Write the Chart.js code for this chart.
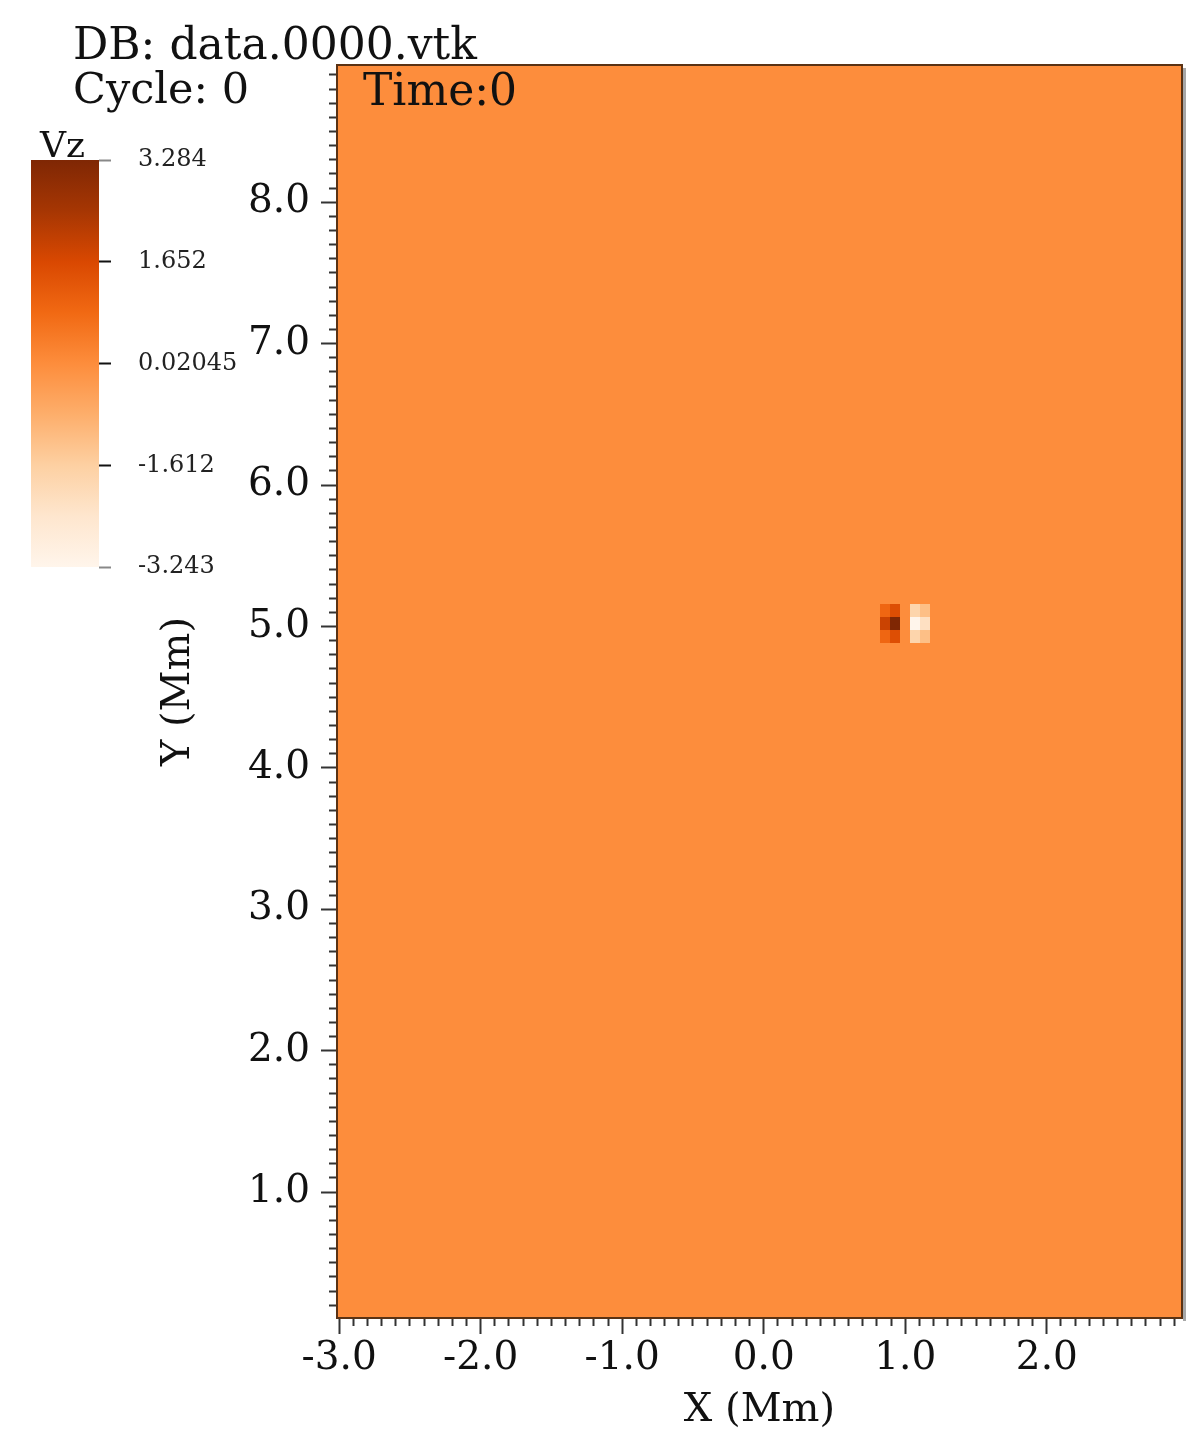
<html>
<head>
<script src="https://cdn.jsdelivr.net/npm/chart.js@4.4.0/dist/chart.umd.min.js"></script>
<style>
    body { margin: 0; background: #fff; width: 1200px; height: 1440px; position: relative; overflow: hidden; }
    canvas { position: absolute; }
    #main { left: 0; top: 0; }
    #cbar { left: 0; top: 130px; }
    .lbl { position: absolute; font-family: "DejaVu Serif"; color: #111; line-height: 1; white-space: nowrap; }
</style>
</head>
<body>
<canvas id="main" width="1200" height="1440"></canvas>
<canvas id="cbar" width="260" height="460"></canvas>
<div class="lbl" style="left:73px;top:22px;font-size:44px">DB: data.0000.vtk</div>
<div class="lbl" style="left:73px;top:67px;font-size:43px">Cycle: 0</div>
<div class="lbl" style="left:363px;top:68px;font-size:44px">Time:0</div>
<div class="lbl" style="left:40px;top:127px;font-size:36px">Vz</div>

<script>
// axis ranges and tick labels
const xMin = -3.015, xMax = 2.955;
const yMin = 0.11, yMax = 8.97;
const xMajor = [-3, -2, -1, 0, 1, 2];
const xLabels = ['-3.0', '-2.0', '-1.0', '0.0', '1.0', '2.0'];
const yMajor = [1, 2, 3, 4, 5, 6, 7, 8];
const yLabels = ['1.0', '2.0', '3.0', '4.0', '5.0', '6.0', '7.0', '8.0'];

// Vz field: uniform background plus a small dipole near (1.0, 5.0)
const vzBackground = 0.02045;
const cellX = [0.86, 0.93, 1.00, 1.07, 1.14];
const cellY = [5.11, 5.02, 4.93];
const cellW = 0.07, cellH = 0.094;
const vzRowTop = [0.9, 1.5, 0.02, -1.8, -1.2];
const vzRowMid = [1.9, 3.284, 0.02, -3.243, -2.2];
const vzRowBot = [0.9, 1.5, 0.02, -1.8, -1.2];

// colour bar
const vzMin = -3.243, vzMax = 3.284;
const cbTicks = [-3.243, -1.612, 0.02045, 1.652, 3.284];
const cbLabels = ['-3.243', '-1.612', '0.02045', '1.652', '3.284'];

const oranges = ['#fff5eb', '#fee6ce', '#fdd0a2', '#fdae6b', '#fd8d3c', '#f16913', '#d94801', '#a63603', '#7f2704'];
const FONT = 'DejaVu Serif';

function hexRgb(h) {
    return [parseInt(h.slice(1, 3), 16), parseInt(h.slice(3, 5), 16), parseInt(h.slice(5, 7), 16)];
}
function orangesColor(v) {
    let t = (v - vzMin) / (vzMax - vzMin);
    t = Math.max(0, Math.min(1, t));
    const f = t * (oranges.length - 1);
    const i = Math.min(oranges.length - 2, Math.floor(f));
    const u = f - i;
    const a = hexRgb(oranges[i]), b = hexRgb(oranges[i + 1]);
    const c = a.map((x, k) => Math.round(x + (b[k] - x) * u));
    return 'rgb(' + c.join(',') + ')';
}

const vzRows = [vzRowTop, vzRowMid, vzRowBot];
const cells = [];
cellY.forEach((y, r) => {
    cellX.forEach((x, c) => {
        cells.push({ x: x, y: y, v: vzRows[r][c] });
    });
});

function isMajor(v) {
    return Math.abs(v - Math.round(v)) < 1e-6;
}
function minorTicks(from, to) {
    const out = [];
    for (let i = from; i <= to; i++) out.push({ value: i / 10 });
    return out;
}
function labelFor(v, majors, labels) {
    if (!isMajor(v)) return '';
    const i = majors.indexOf(Math.round(v));
    return i >= 0 ? labels[i] : '';
}

const cellCache = {};
function cellStyle(c) {
    const p = c.raw;
    if (!p) return 'rect';
    const xs = c.chart.scales.x, ys = c.chart.scales.y;
    const w = Math.max(1, Math.round(Math.abs(xs.getPixelForValue(p.x + cellW / 2) - xs.getPixelForValue(p.x - cellW / 2))));
    const h = Math.max(1, Math.round(Math.abs(ys.getPixelForValue(p.y + cellH / 2) - ys.getPixelForValue(p.y - cellH / 2))));
    const col = orangesColor(p.v);
    const key = w + 'x' + h + col;
    if (!cellCache[key]) {
        const cv = document.createElement('canvas');
        cv.width = w;
        cv.height = h;
        const g = cv.getContext('2d');
        g.fillStyle = col;
        g.fillRect(0, 0, w, h);
        cellCache[key] = cv;
    }
    return cellCache[key];
}

const fieldPlugin = {
    id: 'field',
    beforeDatasetsDraw(chart) {
        const { ctx, chartArea: a } = chart;
        ctx.save();
        ctx.fillStyle = orangesColor(vzBackground);
        ctx.fillRect(a.left, a.top, a.width, a.height);
        ctx.restore();
    },
    afterDatasetsDraw(chart) {
        const { ctx, chartArea: a } = chart;
        ctx.save();
        ctx.fillStyle = 'rgba(130,130,130,0.7)';
        ctx.fillRect(a.right + 1, a.top + 3, 3, a.height);
        ctx.strokeStyle = '#5a3214';
        ctx.lineWidth = 2;
        ctx.strokeRect(a.left, a.top, a.width, a.height);
        ctx.restore();
    }
};

new Chart(document.getElementById('main'), {
    type: 'scatter',
    data: {
        datasets: [{
            data: cells,
            pointStyle: cellStyle,
            pointRadius: 5,
            pointHoverRadius: 5
        }]
    },
    options: {
        responsive: false,
        animation: false,
        layout: { padding: { top: 65, right: 18, left: 150, bottom: 0 } },
        plugins: { legend: { display: false }, tooltip: { enabled: false } },
        scales: {
            x: {
                type: 'linear',
                min: xMin,
                max: xMax,
                afterFit: s => { s.height = 122; },
                afterBuildTicks: s => { s.ticks = minorTicks(-30, 29); },
                border: { display: false },
                grid: {
                    drawOnChartArea: false,
                    tickLength: 16,
                    tickWidth: 2,
                    tickColor: '#333',
                    tickBorderDash: c => (c.tick && !isMajor(c.tick.value)) ? [8, 100] : []
                },
                ticks: {
                    autoSkip: false,
                    maxRotation: 0,
                    minRotation: 0,
                    padding: 1,
                    color: '#111',
                    font: { family: FONT, size: 39 },
                    callback: v => labelFor(v, xMajor, xLabels)
                },
                title: {
                    display: true,
                    text: 'X (Mm)',
                    color: '#111',
                    font: { family: FONT, size: 40 },
                    padding: { top: 0, bottom: 5 }
                }
            },
            y: {
                type: 'linear',
                min: yMin,
                max: yMax,
                afterFit: s => { s.width = 187; },
                afterBuildTicks: s => { s.ticks = minorTicks(2, 89); },
                border: { display: false },
                grid: {
                    drawOnChartArea: false,
                    tickLength: 16,
                    tickWidth: 2,
                    tickColor: '#333',
                    tickBorderDash: c => (c.tick && !isMajor(c.tick.value)) ? [0, 8, 8, 100] : []
                },
                ticks: {
                    autoSkip: false,
                    padding: 11,
                    color: '#111',
                    font: { family: FONT, size: 39 },
                    callback: v => labelFor(v, yMajor, yLabels)
                },
                title: {
                    display: true,
                    text: 'Y (Mm)',
                    color: '#111',
                    font: { family: FONT, size: 40 },
                    padding: { top: 5, bottom: 0 }
                }
            }
        }
    },
    plugins: [fieldPlugin]
});

function barGradient(c) {
    const a = c.chart.chartArea;
    if (!a) return oranges[4];
    const g = c.chart.ctx.createLinearGradient(0, a.bottom, 0, a.top);
    oranges.forEach((col, i) => g.addColorStop(i / (oranges.length - 1), col));
    return g;
}

new Chart(document.getElementById('cbar'), {
    type: 'bar',
    data: {
        labels: ['Vz'],
        datasets: [{
            data: [[vzMin, vzMax]],
            backgroundColor: barGradient,
            borderWidth: 0,
            barPercentage: 1,
            categoryPercentage: 1
        }]
    },
    options: {
        responsive: false,
        animation: false,
        layout: { padding: { left: 31, top: 30, bottom: 23, right: 0 } },
        plugins: { legend: { display: false }, tooltip: { enabled: false } },
        scales: {
            x: { display: false },
            y: {
                position: 'right',
                min: vzMin,
                max: vzMax,
                afterFit: s => { s.width = 161; s.paddingTop = 0; s.paddingBottom = 0; },
                afterBuildTicks: s => { s.ticks = cbTicks.map(v => ({ value: v })); },
                border: { display: false },
                grid: {
                    drawOnChartArea: false,
                    tickLength: 12,
                    tickWidth: 2,
                    tickColor: c => (c.index === 0 || c.index === cbTicks.length - 1) ? '#888' : '#111'
                },
                ticks: {
                    autoSkip: false,
                    padding: 27,
                    color: '#222',
                    font: { family: FONT, size: 24 },
                    callback: (v, i) => cbLabels[i]
                }
            }
        }
    }
});
</script>
</body>
</html>
